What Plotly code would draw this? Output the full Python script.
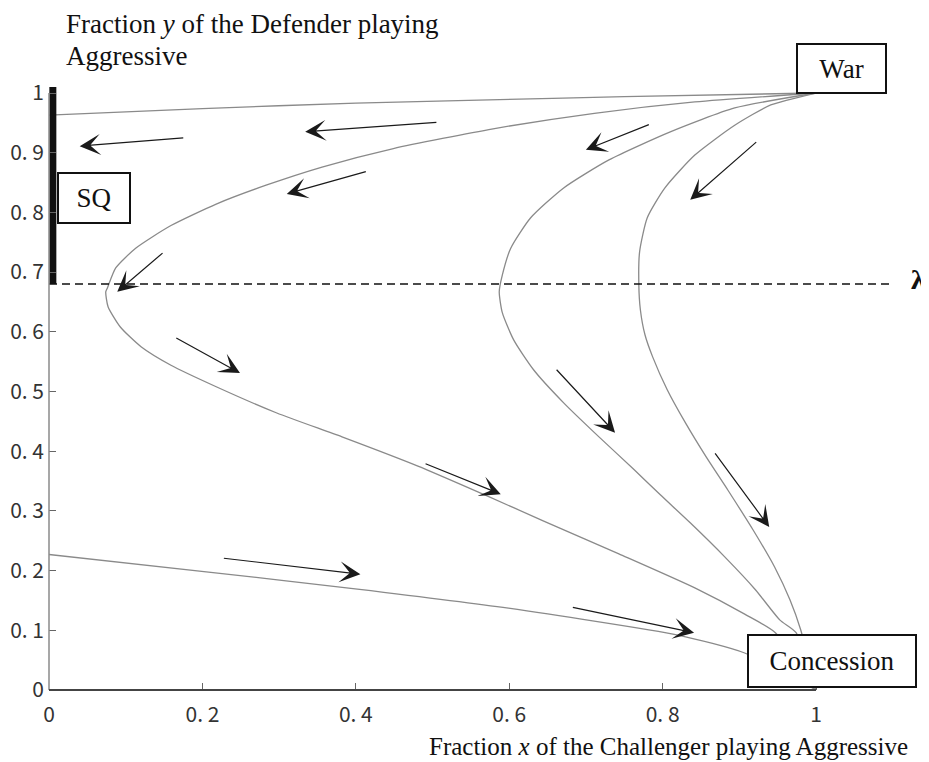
import plotly.graph_objects as go

# ---------------- data ----------------
LAMBDA = 0.68

CURVE_A_X = [0.0, 0.2, 0.4, 0.56, 0.75, 1.0]
CURVE_A_Y = [0.963, 0.974, 0.983, 0.988, 0.994, 1.0]

CURVE_B_X = [1.0, 0.842, 0.711, 0.579, 0.449, 0.356, 0.284, 0.218, 0.159, 0.113, 0.087,
             0.076, 0.074, 0.077, 0.093, 0.120, 0.159, 0.218, 0.297, 0.382, 0.481, 0.566,
             0.645, 0.743, 0.842, 0.907, 0.947, 1.0]
CURVE_B_Y = [1.0, 0.985, 0.966, 0.940, 0.907, 0.876, 0.846, 0.814, 0.778, 0.740, 0.707,
             0.673, 0.667, 0.642, 0.608, 0.575, 0.544, 0.508, 0.464, 0.424, 0.375, 0.328,
             0.283, 0.228, 0.171, 0.127, 0.096, 0.0]

CURVE_C_X = [1.0, 0.894, 0.810, 0.730, 0.671, 0.628, 0.602, 0.591, 0.587, 0.591, 0.606,
             0.632, 0.671, 0.717, 0.763, 0.797, 0.836, 0.881, 0.921, 0.953, 0.974, 1.0]
CURVE_C_Y = [1.0, 0.975, 0.935, 0.888, 0.841, 0.791, 0.740, 0.695, 0.667, 0.632, 0.586,
             0.536, 0.481, 0.424, 0.369, 0.327, 0.280, 0.223, 0.168, 0.117, 0.096, 0.0]

CURVE_D_X = [1.0, 0.941, 0.894, 0.842, 0.803, 0.780, 0.770, 0.769, 0.771, 0.777, 0.787,
             0.806, 0.830, 0.857, 0.885, 0.918, 0.946, 0.966, 0.980, 1.0]
CURVE_D_Y = [1.0, 0.980, 0.946, 0.896, 0.841, 0.791, 0.734, 0.678, 0.637, 0.595, 0.558,
             0.503, 0.447, 0.390, 0.335, 0.268, 0.206, 0.151, 0.101, 0.0]

CURVE_E_X = [0.0, 0.205, 0.402, 0.599, 0.820, 0.907, 1.0]
CURVE_E_Y = [0.227, 0.198, 0.169, 0.137, 0.092, 0.062, 0.0]

SQ_Y = [LAMBDA, 1.01]
LAMBDA_LINE_X = [0.0, 1.096]

ARROW_TAIL_X = [0.177, 0.507, 0.784, 0.924, 0.415, 0.150, 0.164, 0.660, 0.489, 0.867, 0.226, 0.681]
ARROW_TAIL_Y = [0.925, 0.951, 0.948, 0.920, 0.869, 0.734, 0.591, 0.539, 0.380, 0.399, 0.221, 0.139]
ARROW_HEAD_X = [0.040, 0.334, 0.700, 0.836, 0.310, 0.089, 0.249, 0.738, 0.589, 0.939, 0.406, 0.841]
ARROW_HEAD_Y = [0.911, 0.935, 0.905, 0.821, 0.831, 0.667, 0.531, 0.431, 0.328, 0.273, 0.194, 0.096]

X_TICKS = [0, 0.2, 0.4, 0.6, 0.8, 1.0]
X_TICK_TEXT = ["0", "0. 2", "0. 4", "0. 6", "0. 8", "1"]
Y_TICKS = [0, 0.1, 0.2, 0.3, 0.4, 0.5, 0.6, 0.7, 0.8, 0.9, 1.0]
Y_TICK_TEXT = ["0", "0. 1", "0. 2", "0. 3", "0. 4", "0. 5", "0. 6", "0. 7", "0. 8", "0. 9", "1"]

# ---------------- style ----------------
X_RANGE = [0, 1.1473]
Y_RANGE = [0, 1.0888]
SQ_X_OFFSET = 0.005
CURVE_COLOR = "#8a8a8a"
SERIF = "Liberation Serif, Times New Roman, serif"
TICKFONT = dict(family="Noto Sans CJK JP, DejaVu Sans, sans-serif", size=21, color="#333")

fig = go.Figure()

for cx, cy in [(CURVE_A_X, CURVE_A_Y), (CURVE_B_X, CURVE_B_Y), (CURVE_C_X, CURVE_C_Y),
               (CURVE_D_X, CURVE_D_Y), (CURVE_E_X, CURVE_E_Y)]:
    fig.add_trace(go.Scatter(x=cx, y=cy, mode="lines",
                             line=dict(color=CURVE_COLOR, width=1.3, shape="spline", smoothing=0.6),
                             hoverinfo="skip", showlegend=False))

# lambda dashed line
fig.add_trace(go.Scatter(x=LAMBDA_LINE_X, y=[LAMBDA, LAMBDA], mode="lines",
                         line=dict(color="#111", width=1.6, dash="8px,5px"),
                         hoverinfo="skip", showlegend=False))

# SQ thick bar
fig.add_trace(go.Scatter(x=[SQ_X_OFFSET, SQ_X_OFFSET], y=SQ_Y, mode="lines",
                         line=dict(color="#111", width=7),
                         hoverinfo="skip", showlegend=False))

annotations = []
for tx, ty, hx, hy in zip(ARROW_TAIL_X, ARROW_TAIL_Y, ARROW_HEAD_X, ARROW_HEAD_Y):
    annotations.append(dict(x=hx, y=hy, ax=tx, ay=ty, xref="x", yref="y", axref="x", ayref="y",
                            text="", showarrow=True, arrowhead=3, arrowsize=2.9,
                            arrowwidth=1.2, arrowcolor="#1a1a1a", standoff=0))

# boxes
annotations.append(dict(x=1.0332, y=1.041, xref="x", yref="y", text="War", showarrow=False,
                        font=dict(family=SERIF, size=27, color="#111"),
                        bgcolor="white", bordercolor="#111", borderwidth=2, borderpad=2,
                        width=83, height=43))
annotations.append(dict(x=0.0587, y=0.8241, xref="x", yref="y", text="SQ", showarrow=False,
                        font=dict(family=SERIF, size=27, color="#111"),
                        bgcolor="white", bordercolor="#111", borderwidth=2, borderpad=2,
                        width=66, height=44))
annotations.append(dict(x=1.0209, y=0.0486, xref="x", yref="y", text="Concession", showarrow=False,
                        font=dict(family=SERIF, size=27, color="#111"),
                        bgcolor="white", bordercolor="#111", borderwidth=2, borderpad=2,
                        width=162, height=46))
# lambda label
annotations.append(dict(x=1.133, y=0.687, xref="x", yref="y", text="<b>λ</b>", showarrow=False,
                        font=dict(family=SERIF, size=28, color="#111")))
# axis titles (paper coordinates so they are never hidden)
annotations.append(dict(x=0.0165, y=1.0246, xref="paper", yref="paper", xanchor="left", yanchor="middle",
                        text="Fraction <i>y</i> of the Defender playing", showarrow=False,
                        font=dict(family=SERIF, size=27, color="#111")))
annotations.append(dict(x=0.0165, y=0.9754, xref="paper", yref="paper", xanchor="left", yanchor="middle",
                        text="Aggressive", showarrow=False,
                        font=dict(family=SERIF, size=27, color="#111")))
annotations.append(dict(x=0.9784, y=-0.0862, xref="paper", yref="paper", xanchor="right", yanchor="middle",
                        text="Fraction <i>x</i> of the Challenger playing Aggressive", showarrow=False,
                        font=dict(family=SERIF, size=25, color="#111")))

xfrac = 1.0 / X_RANGE[1]
yfrac = 1.0 / Y_RANGE[1]
shapes = [
    dict(type="line", xref="x domain", yref="y domain", x0=0, x1=0, y0=0, y1=yfrac,
         line=dict(color="#8a8a8a", width=1.5)),
    dict(type="line", xref="x domain", yref="y domain", x0=0, x1=xfrac, y0=0, y1=0,
         line=dict(color="#444", width=2)),
]

# The page adds an 8px body margin, so the figure is 8px smaller and margins are shifted.
fig.update_layout(
    width=921, height=754,
    margin=dict(l=41, r=0, t=32, b=72),
    paper_bgcolor="white", plot_bgcolor="white",
    showlegend=False,
    annotations=annotations,
    shapes=shapes,
    xaxis=dict(range=X_RANGE, tickvals=X_TICKS, ticktext=X_TICK_TEXT, ticks="inside",
               ticklen=7, tickcolor="#666", tickwidth=1, showgrid=False, zeroline=False,
               showline=False, tickfont=TICKFONT, ticklabelstandoff=10),
    yaxis=dict(range=Y_RANGE, tickvals=Y_TICKS, ticktext=Y_TICK_TEXT, ticks="inside",
               ticklen=7, tickcolor="#666", tickwidth=1, showgrid=False, zeroline=False,
               showline=False, tickfont=TICKFONT, ticklabelstandoff=4),
)

fig.write_html("out.html")
